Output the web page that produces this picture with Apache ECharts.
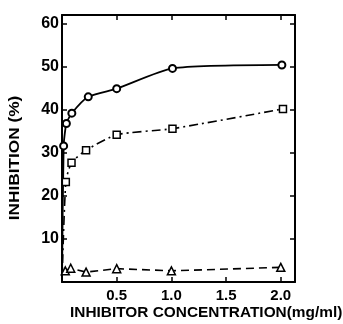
<!DOCTYPE html>
<html>
<head>
<meta charset="utf-8">
<script src="https://cdn.jsdelivr.net/npm/echarts@6/dist/echarts.min.js"></script>
<style>
  html, body { margin: 0; padding: 0; background: #fff; }
  #chart { width: 343px; height: 324px; }
</style>
</head>
<body>
<div id="chart"></div>
<script>
// inhibitor concentration (mg/ml) vs inhibition (%)
var concCircle = [0, 0.015, 0.04, 0.09, 0.24, 0.5, 1.01, 2.01];
var inhCircle = [0, 31.6, 36.8, 39.2, 43.0, 44.9, 49.6, 50.4];
var concSquare = [0, 0.035, 0.087, 0.22, 0.5, 1.01, 2.02];
var inhSquare = [0, 23.2, 27.7, 30.6, 34.2, 35.6, 40.2];
var concTriangle = [0.03, 0.08, 0.22, 0.5, 1.0, 2.0];
var inhTriangle = [2.6, 3.2, 2.3, 3.1, 2.6, 3.4];
var xTicks = [0.5, 1.0, 1.5, 2.0];
var yTicks = [10, 20, 30, 40, 50, 60];

var FONT = 'Liberation Sans';

function pairs(xs, ys) {
  return xs.map(function (x, i) {
    var item = { value: [x, ys[i]] };
    // the curve starts at the origin, no marker there
    if (x === 0 && ys[i] === 0) item.symbol = 'none';
    return item;
  });
}

var chart = echarts.init(document.getElementById('chart'));

var axisLine = { show: true, onZero: false, lineStyle: { color: '#000', width: 2 } };
var tick = { show: true, inside: true, length: 5, lineStyle: { color: '#000', width: 1.5 } };

var option = {
  animation: false,
  grid: { left: 62, top: 15, right: 48, bottom: 42 },
  xAxis: [
    {
      type: 'value', min: 0, max: 2.13, interval: 0.5,
      axisLine: axisLine, axisTick: tick, splitLine: { show: false },
      axisLabel: {
        color: '#000', fontFamily: FONT, fontSize: 15, fontWeight: 'bold', margin: 6,
        showMinLabel: false, showMaxLabel: false,
        formatter: function (v) { return xTicks.indexOf(v) >= 0 ? v.toFixed(1) : ''; }
      }
    },
    {
      type: 'value', position: 'top', min: 0, max: 2.13, interval: 0.5,
      axisLine: axisLine, axisTick: tick, splitLine: { show: false },
      axisLabel: { show: false }
    }
  ],
  yAxis: [
    {
      type: 'value', min: 0, max: 62, interval: 10,
      axisLine: axisLine, axisTick: tick, splitLine: { show: false },
      axisLabel: {
        color: '#000', fontFamily: FONT, fontSize: 16, fontWeight: 'bold', margin: 3,
        showMinLabel: false, showMaxLabel: false,
        formatter: function (v) { return yTicks.indexOf(v) >= 0 ? String(v) : ''; }
      }
    },
    {
      type: 'value', position: 'right', min: 0, max: 62, interval: 10,
      axisLine: axisLine, axisTick: tick, splitLine: { show: false },
      axisLabel: { show: false }
    }
  ],
  graphic: [
    {
      type: 'text', x: 70, y: 313, scaleX: 1.1,
      style: {
        text: 'INHIBITOR CONCENTRATION(mg/ml)', fill: '#000', verticalAlign: 'middle',
        font: 'bold 14px "' + FONT + '"'
      }
    },
    {
      type: 'text', x: 15, y: 158, rotation: Math.PI / 2, scaleX: 1.15,
      style: {
        text: 'INHIBITION (%)', fill: '#000', align: 'center', verticalAlign: 'middle',
        font: 'bold 15px "' + FONT + '"'
      }
    }
  ],
  series: [
    {
      type: 'line', data: pairs(concCircle, inhCircle),
      smooth: 0.2,
      symbol: 'emptyCircle', symbolSize: 7,
      lineStyle: { color: '#000', width: 1.8 },
      itemStyle: { color: '#000', borderWidth: 1.5 }
    },
    {
      type: 'line', data: pairs(concSquare, inhSquare),
      smooth: 0.2,
      symbol: 'rect', symbolSize: 7,
      lineStyle: { color: '#000', width: 1.6, type: [9, 4, 2, 4] },
      itemStyle: { color: '#fff', borderColor: '#000', borderWidth: 1.5 }
    },
    {
      type: 'line', data: pairs(concTriangle, inhTriangle),
      symbol: 'triangle', symbolSize: 8,
      lineStyle: { color: '#000', width: 1.6, type: [8, 5] },
      itemStyle: { color: '#fff', borderColor: '#000', borderWidth: 1.5 }
    }
  ]
};

chart.setOption(option);
</script>
</body>
</html>
